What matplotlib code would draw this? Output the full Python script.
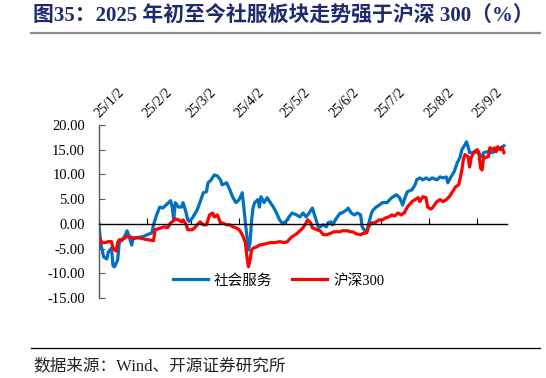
import numpy as np
import matplotlib
matplotlib.use("Agg")
import matplotlib.pyplot as plt
from matplotlib.lines import Line2D

# ---------------- data ----------------
title = "图35：2025 年初至今社服板块走势强于沪深 300（%）"
source = "数据来源：Wind、开源证券研究所"
series_names = ["社会服务", "沪深300"]
start_date = "2025-01-02"

# day offsets from 2025-01-02 and values (%)
blue_days = [0, 1, 3, 5, 6, 8, 9, 10, 12, 13, 15, 17, 18, 19, 21, 22, 24, 28, 31, 34,
             35, 37, 39, 41, 43, 46, 47, 48, 49, 51, 53, 54, 56, 57, 58, 60, 63, 65, 67, 69,
             70, 72, 74, 76, 78, 79, 82, 84, 86, 88, 90, 92, 93, 94, 96, 97, 98, 99, 100, 102,
             103, 104, 106, 108, 110, 112, 114, 116, 118, 121, 122, 124, 127, 129, 131, 133, 135, 137, 138, 140,
             141, 142, 144, 146, 147, 149, 150, 153, 155, 156, 159, 160, 162, 164, 166, 168, 169, 171, 172, 173,
             175, 176, 178, 180, 182, 185, 187, 188, 191, 193, 195, 196, 198, 201, 203, 204, 206, 208, 210, 212,
             214, 217, 219, 221, 223, 224, 226, 228, 230, 232, 233, 235, 236, 237, 238, 240, 242, 243, 246, 247,
             249, 252, 254, 256, 258, 260]
blue_vals = [0.0, -3.8, -6.7, -7.1, -5.7, -4.9, -8.5, -8.7, -7.3, -3.8, -3.2, -2.2, -1.4, -2.2, -4.3, -2.8, -2.8, -2.6, -2.2, -1.8,
             -0.2, 1.8, 3.4, 3.2, 3.8, 4.7, 3.4, 0.8, 4.3, 3.4, 3.4, 4.3, 2.2, 0.8, 0.5, 1.2, 2.8, 4.5, 6.3, 6.5,
             8.3, 8.9, 9.9, 9.7, 8.9, 7.9, 8.3, 6.9, 5.3, 4.3, 4.9, 6.3, 3.4, 0.2, -5.3, -3.8, 0.8, 3.4, 4.3, 4.9,
             3.4, 5.5, 4.3, 5.3, 4.3, 3.4, 2.2, 0.8, 0.0, 0.8, 1.4, 2.2, 1.8, 1.4, 2.2, 1.4, 2.2, 3.2, 2.2, 0.2,
             -0.8, -0.6, -0.2, -0.6, 0.2, 0.4, -0.2, 1.4, 2.2, 2.2, 2.8, 3.2, 2.2, 1.8, 2.2, 1.8, -0.6, -1.6, -1.6, -0.2,
             2.2, 2.8, 3.4, 3.8, 4.3, 4.3, 5.0, 5.3, 5.9, 5.3, 3.8, 4.9, 6.5, 6.9, 7.9, 8.9, 9.3, 8.9, 9.3, 8.9,
             9.3, 8.9, 9.5, 9.3, 9.5, 8.3, 9.5, 10.5, 12.3, 13.6, 15.0, 16.0, 16.6, 15.6, 14.4, 14.4, 14.6, 14.4, 13.6, 14.4,
             14.6, 14.4, 14.6, 15.0, 15.4, 15.8]

red_days = [0, 2, 4, 6, 8, 9, 11, 12, 13, 15, 18, 20, 22, 25, 28, 31, 35, 36, 38, 40,
            42, 44, 46, 47, 49, 51, 53, 54, 56, 57, 60, 62, 63, 65, 67, 69, 71, 73, 74, 76,
            78, 79, 82, 84, 86, 88, 90, 92, 94, 95, 96, 97, 98, 99, 101, 103, 106, 110, 113, 116,
            119, 121, 122, 124, 127, 129, 131, 133, 134, 136, 137, 140, 142, 144, 146, 148, 151, 155, 156, 160,
            161, 163, 165, 168, 169, 172, 173, 175, 177, 180, 182, 184, 186, 188, 190, 192, 194, 196, 198, 201,
            203, 205, 206, 208, 210, 211, 213, 214, 217, 219, 221, 223, 225, 227, 229, 231, 232, 233, 234, 235,
            237, 238, 239, 241, 243, 244, 245, 246, 247, 248, 250, 251, 253, 254, 255, 256, 258, 259, 260]
red_vals = [-2.8, -3.8, -3.8, -3.6, -3.6, -4.9, -5.5, -3.8, -3.2, -3.2, -2.6, -2.6, -3.0, -2.8, -3.0, -3.2, -3.4, -1.2, -1.0, -0.8,
            -0.6, -0.8, 0.2, 0.4, 1.0, 0.8, 0.4, 0.8, -0.2, -1.2, -1.2, -0.6, -0.2, 0.4, -0.2, -0.2, 1.8, 2.2, 1.4, 1.8,
            0.2, 0.2, -0.2, -0.2, -0.6, -0.8, -1.2, -2.2, -3.8, -6.7, -8.7, -7.3, -5.3, -4.9, -4.7, -4.3, -4.1, -3.8, -3.8, -3.6,
            -3.8, -3.6, -3.2, -2.6, -2.0, -1.4, -0.8, 0.2, 0.8, 0.2, -0.8, -1.2, -1.4, -2.2, -2.2, -2.0, -1.6, -1.6, -1.4, -1.4,
            -1.6, -1.6, -2.0, -2.2, -2.0, -1.8, -0.6, 0.2, 0.2, 0.8, 0.8, 1.2, 1.4, 1.8, 1.6, 2.2, 1.8, 2.2, 3.4, 4.5,
            4.9, 5.3, 4.5, 5.5, 5.3, 3.4, 3.0, 3.2, 4.5, 4.9, 4.5, 4.9, 5.5, 6.5, 7.5, 7.9, 9.3, 10.9, 13.0, 14.0,
            13.6, 11.5, 13.4, 14.6, 15.0, 14.4, 11.3, 10.9, 13.6, 13.4, 13.6, 15.4, 15.0, 15.4, 14.6, 15.6, 15.0, 15.4, 14.4]

tick_dates = ["2025-01-02", "2025-02-02", "2025-03-02", "2025-04-02", "2025-05-02",
              "2025-06-02", "2025-07-02", "2025-08-02", "2025-09-02"]
tick_labels = ["25/1/2", "25/2/2", "25/3/2", "25/4/2", "25/5/2",
               "25/6/2", "25/7/2", "25/8/2", "25/9/2"]
y_ticks = [-15, -10, -5, 0, 5, 10, 15, 20]

# ---------------- plot ----------------
serif_cjk = ["Liberation Serif", "Noto Sans CJK SC"]
plt.rcParams["font.family"] = serif_cjk

base = np.datetime64(start_date)
bx = base + np.array(blue_days).astype("timedelta64[D]")
rx = base + np.array(red_days).astype("timedelta64[D]")

fig = plt.figure(figsize=(5.46, 3.78), dpi=100)
ax = fig.add_axes([99/546, 1-298/378, 408/546, 173/378])

ax.plot(bx, blue_vals, color="#0070C0", lw=2.3, label=series_names[0], solid_joinstyle="round")
ax.plot(rx, red_vals, color="#FF0000", lw=2.3, label=series_names[1], solid_joinstyle="round")

ax.set_ylim(-15, 20)
ax.set_xlim(base, base + np.timedelta64(262, "D"))
ax.set_yticks(y_ticks)
ax.set_yticklabels([f"{v:.2f}" for v in y_ticks], fontsize=10.5)

ax.set_xticks(np.array(tick_dates, dtype="datetime64[D]"))
ax.set_xticklabels(tick_labels, fontsize=10.5)

for s in ["top", "right"]:
    ax.spines[s].set_visible(False)
ax.spines["bottom"].set_position(("data", 0))
ax.spines["bottom"].set_color("black")
ax.spines["bottom"].set_linewidth(1.0)
ax.spines["left"].set_color("#595959")
ax.spines["left"].set_linewidth(1.0)

ax.tick_params(axis="y", direction="in", length=4, color="#595959", pad=10)
ax.tick_params(axis="x", direction="in", length=4, color="black", bottom=True, top=False,
               labelbottom=False, labeltop=True, pad=5)
for lab in ax.get_xticklabels():
    lab.set_rotation(45)
    lab.set_ha("left")
    lab.set_va("baseline")
    lab.set_rotation_mode("anchor")

leg = ax.legend(loc="center", bbox_to_anchor=(0.44, 0.10), ncol=2, frameon=False,
                fontsize=10.5, handlelength=2.4, handletextpad=0.4, columnspacing=1.4)

fig.text(33/546, 1-16.5/378, title, fontsize=15, fontweight="bold", color="#1F2A6E",
         va="center", ha="left", family=serif_cjk)
fig.add_artist(Line2D([31/546, 540/546], [1-33/378, 1-33/378], color="#8C8C8C", lw=1.6))
fig.add_artist(Line2D([31/546, 540/546], [1-348/378, 1-348/378], color="black", lw=0.9))
fig.text(33/546, 1-366/378, source, fontsize=12, color="#222222", va="center", ha="left",
         family=serif_cjk)

fig.savefig("out.png", dpi=100)
